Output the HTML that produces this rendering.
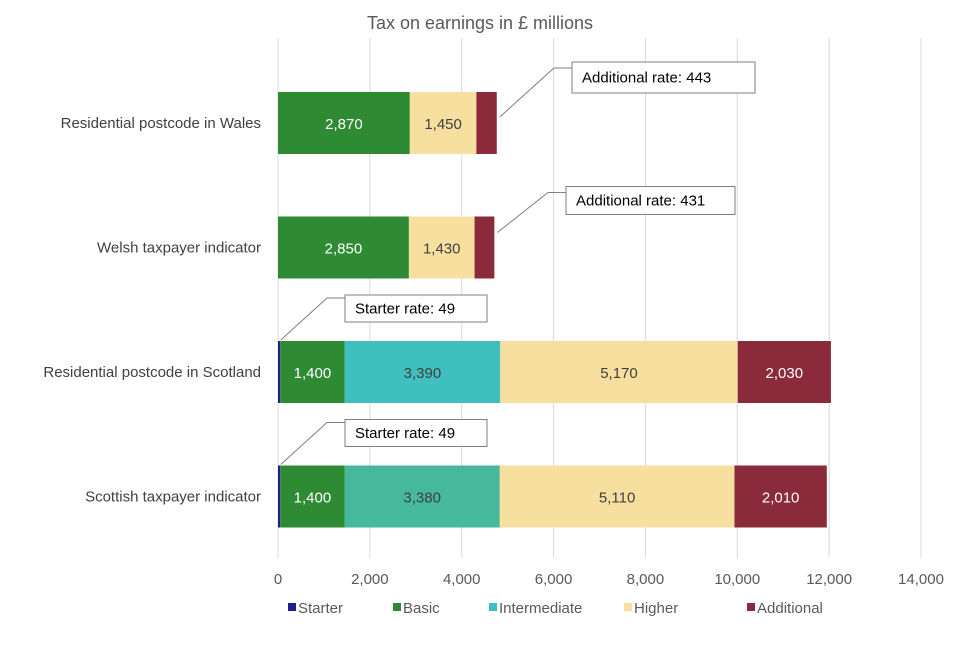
<!DOCTYPE html>
<html><head><meta charset="utf-8"><style>
body{margin:0;background:#fff;}
svg{font-family:"Liberation Sans",sans-serif;}
</style></head><body>
<svg id="c" width="960" height="640" xmlns="http://www.w3.org/2000/svg">
<text x="480" y="29" text-anchor="middle" font-size="18" fill="#595959">Tax on earnings in £ millions</text>
<g id="grid"></g><g id="bars"></g><g id="labels"></g><g id="callouts"></g><g id="legend"></g>
</svg>
<script>
const categories=["Residential postcode in Wales","Welsh taxpayer indicator","Residential postcode in Scotland","Scottish taxpayer indicator"];
const seriesNames=["Starter","Basic","Intermediate","Higher","Additional"];
const starter=[0,0,49,49];
const basic=[2870,2850,1400,1400];
const intermediate=[0,0,3390,3380];
const higher=[1450,1430,5170,5110];
const additional=[443,431,2030,2010];
const ticks=[0,2000,4000,6000,8000,10000,12000,14000];
const callouts=["Additional rate: 443","Additional rate: 431","Starter rate: 49","Starter rate: 49"];
const colors=["#1f1f8f","#2e8b34","#40bfbf","#f7dfa0","#8b2a3a"];
const interColors=[null,null,"#40bfbf","#46b89c"];
const textColors=["#fff","#fff","#404040","#404040","#fff"];
const NS="http://www.w3.org/2000/svg";
const x=v=>278+v*(643/14000);
const yc=i=>123+124.5*i;
function mk(tag,attrs,parent,txt){const e=document.createElementNS(NS,tag);for(const k in attrs)e.setAttribute(k,attrs[k]);if(txt!=null)e.textContent=txt;parent.appendChild(e);return e;}
const grid=document.getElementById('grid');
ticks.forEach(t=>{
 const l=mk('line',{x1:x(t),x2:x(t),y1:38,y2:558,stroke:'#d9d9d9','stroke-width':1},grid);
 
 
 const tx=mk('text',{x:x(t),y:584,'text-anchor':'middle','font-size':15,fill:'#595959'},grid,t.toLocaleString('en-GB'));
 
 
});
const series=[starter,basic,intermediate,higher,additional];
const bars=document.getElementById('bars'),labels=document.getElementById('labels'),co=document.getElementById('callouts');
categories.forEach((cat,i)=>{
 const cy=yc(i),h=62;
 const ct=mk('text',{x:261,y:cy+5,'text-anchor':'end','font-size':15,fill:'#404040'},labels,cat);
 
 
 let acc=0;
 series.forEach((s,k)=>{
  const v=s[i];if(!v){return;}
  const fill=(k===2&&interColors[i])?interColors[i]:colors[k];
  const r=mk('rect',{x:x(acc),y:cy-h/2,width:x(acc+v)-x(acc),height:h,fill:fill},bars);
  
  
  if(v>=1000){
   const t=mk('text',{x:(x(acc)+x(acc+v))/2,y:cy+6,'text-anchor':'middle','font-size':15,fill:textColors[k]},labels,v.toLocaleString('en-GB'));
   
   
  }
  acc+=v;
 });
 const isStarter=starter[i]>0;
 let px,bx,bw;
 if(isStarter){px=x(starter[i])+0.5;bx=345;bw=142;}
 else{px=x(basic[i]+higher[i]+additional[i])+3;bx=(i===0?572:566);bw=(i===0?183:169);}
 const top=cy-h/2;
 const boxY=isStarter?top-46:top-30;
 const bh=isStarter?27:(i===0?31:28);
 const lineY=isStarter?boxY+3:boxY+6;
 const startY=isStarter?top-1:top+(i===0?25:16);
 const pl=mk('polyline',{points:`${px},${startY} ${bx-18},${lineY} ${bx},${lineY}`,fill:'none',stroke:'#7f7f7f','stroke-width':1},co);
 
 
 const br=mk('rect',{x:bx,y:boxY,width:bw,height:bh,fill:'#fff',stroke:'#7f7f7f','stroke-width':1},co);
 
 
 const bt=mk('text',{x:bx+10,y:boxY+bh/2+5,'font-size':15,fill:'#000'},co,callouts[i]);
 
 
});
const lg=document.getElementById('legend');
const lx=[288,393,489,624,747];
seriesNames.forEach((n,k)=>{
 const g=mk('g',{},lg);
 
 
 mk('rect',{x:lx[k],y:603,width:8,height:8,fill:colors[k]},g);
 mk('text',{x:lx[k]+10,y:613,'font-size':15,fill:'#595959'},g,n);
});
</script>
</body></html>
